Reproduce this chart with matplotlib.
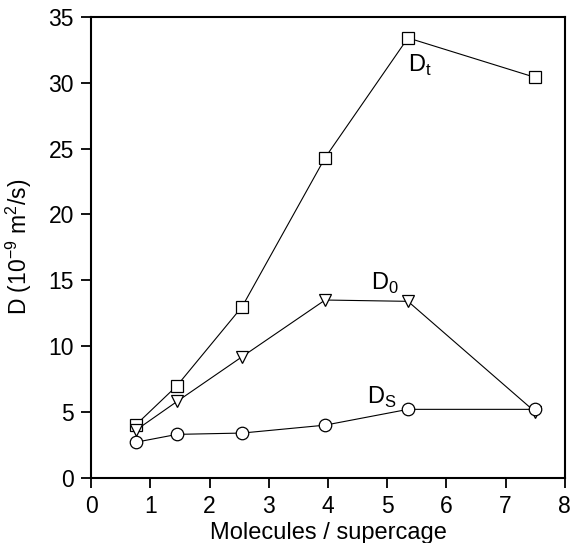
import matplotlib.pyplot as plt

plt.rcParams['font.family'] = ['Liberation Sans', 'DejaVu Sans']

loading = [0.75, 1.45, 2.55, 3.95, 5.35, 7.5]
d_t = [4.0, 7.0, 13.0, 24.3, 33.4, 30.4]
d_0 = [3.6, 5.8, 9.2, 13.5, 13.4, 5.0]
d_s = [2.7, 3.3, 3.4, 4.0, 5.2, 5.2]

fig = plt.figure(figsize=(5.7, 5.43), dpi=100)
ax = fig.add_axes([0.16, 0.12, 0.831, 0.849])

style = dict(color='black', linewidth=0.8, markerfacecolor='white',
             markeredgecolor='black', markeredgewidth=0.9)
ax.plot(loading, d_t, marker='s', markersize=8, **style)
ax.plot(loading, d_0, marker='v', markersize=9, **style)
ax.plot(loading, d_s, marker='o', markersize=9, **style)

ax.text(5.35, 30.85, r'D$_\mathregular{t}$', fontsize=17)
ax.text(4.73, 14.25, r'D$_\mathregular{0}$', fontsize=17)
ax.text(4.65, 5.6, r'D$_\mathregular{S}$', fontsize=17)

ax.set_xlim(0, 8)
ax.set_ylim(0, 35)
ax.set_xticks(range(0, 9))
ax.set_yticks(range(0, 36, 5))
ax.tick_params(direction='out', length=7.5, width=1.3, labelsize=16.5)
ax.tick_params(axis='x', pad=4.5)
ax.tick_params(axis='y', pad=5)
for s in ax.spines.values():
    s.set_linewidth(1.5)

ax.set_xlabel('Molecules / supercage', fontsize=17, labelpad=3)
ax.set_ylabel(r'D (10$^\mathregular{-9}$ m$^\mathregular{2}$/s)', fontsize=16.5)
ax.yaxis.set_label_coords(-0.12, 0.5)

plt.savefig('out.png')
